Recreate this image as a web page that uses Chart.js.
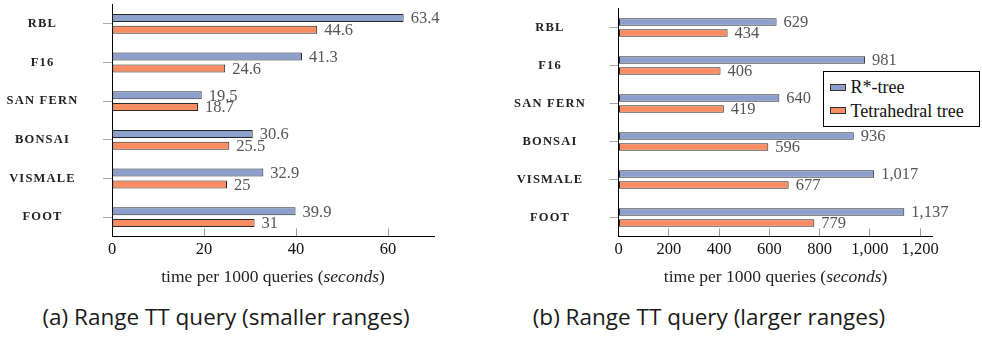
<!DOCTYPE html>
<html><head><meta charset="utf-8">
<script src="https://cdn.jsdelivr.net/npm/chart.js@4/dist/chart.umd.min.js"></script>
<style>
html,body{margin:0;padding:0;background:#fff;}
body{width:982px;height:337px;overflow:hidden;position:relative;}
canvas{position:absolute;top:0;}
#c1{left:0;}
#c2{left:490px;}
.cap{position:absolute;top:304px;height:26px;line-height:26px;font-family:"Open Sans",sans-serif;font-size:22.5px;color:#1a1a1a;white-space:nowrap;transform:translateX(-50%);}
#legend{position:absolute;left:822.5px;top:70.5px;width:157px;height:56px;border:1px solid #000;background:#fff;box-sizing:border-box;font-family:"Liberation Serif",serif;font-size:18px;color:#111;}
.row{position:absolute;left:0;height:20px;line-height:20px;white-space:nowrap;}
.sw{position:absolute;left:6px;top:6.5px;width:16px;height:7px;box-sizing:border-box;border:1px solid #333;}
.lt{position:absolute;left:27px;top:0;}
</style>
</head><body>
<canvas id="c1" width="490" height="290"></canvas>
<canvas id="c2" width="492" height="290"></canvas>
<div class="cap" id="capA" style="left:226px"></div>
<div class="cap" id="capB" style="left:709px"></div>
<div id="legend"></div>
<script>
// ---- data ----
const categories = ['RBL', 'F16', 'SAN FERN', 'BONSAI', 'VISMALE', 'FOOT'];
const seriesNames = ['R*-tree', 'Tetrahedral tree'];
const smallRtree = [63.4, 41.3, 19.5, 30.6, 32.9, 39.9];
const smallTetra = [44.6, 24.6, 18.7, 25.5, 25, 31];
const largeRtree = [629, 981, 640, 936, 1017, 1137];
const largeTetra = [434, 406, 419, 596, 677, 779];
const smallTicks = [0, 20, 40, 60];
const largeTicks = [0, 200, 400, 600, 800, 1000, 1200];
const smallMax = 70;
const largeMax = 1250;
const axisTitleMain = 'time per 1000 queries (';
const axisTitleItalic = 'seconds';
const axisTitleEnd = ')';
const captions = ['(a) Range TT query (smaller ranges)', '(b) Range TT query (larger ranges)'];

// ---- style ----
const colors = ['#8da0cb', '#fc8d62'];
const serif = '"Liberation Serif", serif';
const catFont = {family: serif, size: 12.5, weight: 'bold'};

const mctx = document.createElement('canvas').getContext('2d');
mctx.font = 'bold 12.5px "Liberation Serif"';
const widest = Math.max(...categories.map(c => mctx.measureText(c).width));

const valueLabels = {
  id: 'valueLabels',
  afterDatasetsDraw(chart) {
    const ctx = chart.ctx;
    ctx.save();
    ctx.font = '16.5px "Liberation Serif"';
    ctx.fillStyle = '#555';
    ctx.textBaseline = 'middle';
    ctx.textAlign = 'left';
    chart.data.datasets.forEach((ds, i) => {
      chart.getDatasetMeta(i).data.forEach((bar, j) => {
        ctx.fillText(ds.data[j].toLocaleString('en-US'), bar.x + 7, bar.y + 1);
      });
    });
    ctx.restore();
  }
};

const axisTitle = {
  id: 'axisTitle',
  afterDraw(chart) {
    const ctx = chart.ctx;
    const ca = chart.chartArea;
    ctx.save();
    ctx.fillStyle = '#222';
    ctx.textBaseline = 'middle';
    ctx.textAlign = 'left';
    const fN = '17.5px "Liberation Serif"', fI = 'italic 17.5px "Liberation Serif"';
    ctx.font = fN; const w1 = ctx.measureText(axisTitleMain).width; const w3 = ctx.measureText(axisTitleEnd).width;
    ctx.font = fI; const w2 = ctx.measureText(axisTitleItalic).width;
    let x = (ca.left + ca.right) / 2 - (w1 + w2 + w3) / 2;
    const y = 277;
    ctx.font = fN; ctx.fillText(axisTitleMain, x, y); x += w1;
    ctx.font = fI; ctx.fillText(axisTitleItalic, x, y); x += w2;
    ctx.font = fN; ctx.fillText(axisTitleEnd, x, y);
    ctx.restore();
  }
};

const spacing = {
  id: 'spacing',
  beforeDraw(chart) {
    const s = chart.scales.y;
    if (s && !s.__ls) {
      const orig = s.drawLabels;
      s.drawLabels = function (ca) {
        const c = this.ctx; c.save(); c.letterSpacing = '1.2px'; orig.call(this, ca); c.restore();
      };
      s.__ls = true;
    }
  }
};

function makeChart(id, rVals, tVals, tickVals, xmax, cfg) {
  new Chart(document.getElementById(id), {
    type: 'bar',
    data: {
      labels: categories,
      datasets: [
        {label: seriesNames[0], data: rVals, backgroundColor: colors[0]},
        {label: seriesNames[1], data: tVals, backgroundColor: colors[1]}
      ]
    },
    options: {
      responsive: false,
      animation: false,
      devicePixelRatio: 1,
      locale: 'en-US',
      indexAxis: 'y',
      layout: {padding: {top: cfg.top, right: cfg.right, left: 0, bottom: 0}},
      datasets: {bar: {categoryPercentage: cfg.cp, barPercentage: cfg.bp, borderWidth: 1, borderColor: '#2a2a2a', borderSkipped: false}},
      plugins: {legend: {display: false}, tooltip: {enabled: false}},
      scales: {
        x: {
          type: 'linear', min: 0, max: xmax,
          afterBuildTicks(s) { s.ticks = tickVals.map(v => ({value: v})); },
          grid: {drawOnChartArea: false, drawTicks: true, tickLength: -8, tickColor: '#999', tickWidth: 1},
          border: {display: true, color: '#000', width: 1},
          ticks: {autoSkip: false, maxRotation: 0, padding: 11.5, color: '#111', font: {family: serif, size: 16.5}},
          afterFit(s) { s.height = 290 - 236.5; s.paddingLeft = 0; s.paddingRight = 0; }
        },
        y: {
          grid: {drawOnChartArea: false, offset: false, drawTicks: true, tickLength: 9, tickColor: '#aaa', tickWidth: 1},
          border: {display: true, color: '#000', width: 1},
          ticks: {crossAlign: 'center', padding: cfg.yw - 9 - cfg.labelC - widest / 2, color: '#222', font: catFont},
          afterFit(s) { s.width = cfg.yw; s.paddingTop = 0; s.paddingBottom = 0; }
        }
      }
    },
    plugins: [valueLabels, axisTitle, spacing]
  });
}

makeChart('c1', smallRtree, smallTetra, smallTicks, smallMax, {top: 4.5, right: 56, yw: 112, labelC: 42.5, cp: 0.61, bp: 0.68});
makeChart('c2', largeRtree, largeTetra, largeTicks, largeMax, {top: 8.5, right: 49.3, yw: 128.5, labelC: 60, cp: 0.58, bp: 0.66});

document.getElementById('capA').textContent = captions[0];
document.getElementById('capB').textContent = captions[1];

const lg = document.getElementById('legend');
seriesNames.forEach((n, i) => {
  const row = document.createElement('div');
  row.className = 'row';
  row.style.top = (i === 0 ? 5.5 : 29) + 'px';
  row.style.width = '100%';
  const sw = document.createElement('div'); sw.className = 'sw'; sw.style.background = colors[i];
  const t = document.createElement('div'); t.className = 'lt'; t.textContent = n;
  row.appendChild(sw); row.appendChild(t); lg.appendChild(row);
});
</script>
</body></html>
